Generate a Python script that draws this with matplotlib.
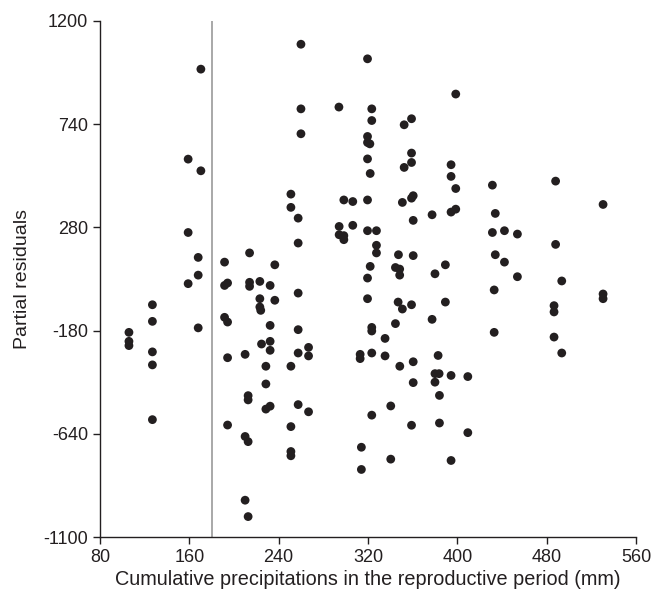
import matplotlib.pyplot as plt
import numpy as np

plt.rcParams['font.family'] = ['Liberation Sans', 'DejaVu Sans']
plt.rcParams['axes.unicode_minus'] = False

# cumulative precipitation (mm) and partial residuals
precip = [
    106, 106, 106, 127, 127, 127, 127, 127, 159, 159, 159, 168, 168, 168, 170.4, 170.4,
    260, 319.6, 260, 294, 323.4, 323.4, 260, 319.6, 319.6, 321.7, 319.6, 322, 352.4, 359,
    359, 359, 352.4, 251, 251, 257.5, 257.5, 298.4, 306.4, 319.6, 294.2, 294.2, 298.4,
    298.4, 306.4, 319.6, 327.6, 327.6, 327.6, 322, 319.6, 350.8, 359, 360.5, 360.5, 360.5,
    347.3, 344.6, 348.4, 348.4, 191.6, 214, 236.6, 191.6, 194.3, 214, 214, 223.2, 232.4,
    223.2, 223.2, 224, 236.6, 257.5, 191.6, 194.3, 232.4, 257.5, 224.7, 232.4, 232.4,
    194.3, 210, 228.6, 251, 257.5, 266.8, 266.8, 228.6, 212.7, 212.7, 228.6, 232.4, 257.5,
    266.8, 194.3, 251, 210, 212.7, 251, 251, 210, 212.7,
    319.6, 323.4, 323.4, 313, 313, 323.4, 335.3, 335.3, 344.6, 347, 350.8, 359, 348.5,
    360.5, 360.5, 340.4, 323.4, 359, 314.1, 314.1, 340.4,
    398.6, 394.4, 394.4, 398.6, 394.4, 398.6, 377.4, 431.4, 434, 431.4, 442.2, 453.8, 434,
    442.2, 453.8, 433, 488, 488, 493.5, 530.5, 530.5, 530.5, 389.3, 380,
    486.6, 486.6, 486.6, 493.5, 433, 389.3, 377.4, 382.8, 380, 383.7, 380, 394.4, 409.4,
    384, 384, 409.4, 394.4,
]
residuals = [
    -188, -228, -247, -65, -139, -275, -333, -577, 584, 257, 29, 146, 67, -168, 985, 532,
    1096, 1031, 808, 816, 808, 756, 697, 685, 658, 652, 585, 520, 737, 764,
    611, 569, 547, 428, 369, 321, 210, 402, 395, 402, 284, 247, 243,
    225, 289, 265, 265, 200, 166, 106, 54, 391, 410, 421, 311, 154,
    158, 101, 94, 67, 125, 166, 113, 21, 32, 35, 17, 39, 21,
    -38, -75, -90, -45, -13, -121, -142, -157, -176, -240, -228, -268,
    -301, -286, -339, -339, -280, -255, -293, -418, -470, -489, -530, -517, -510,
    -542, -601, -608, -652, -675, -719, -738, -936, -1009,
    -38, -166, -182, -286, -305, -280, -215, -293, -149, -53, -84, -65, -339,
    -319, -412, -516, -557, -602, -700, -799, -753,
    874, 559, 507, 453, 348, 361, 336, 468, 342, 257, 265, 250, 158,
    125, 60, 1, 486, 204, 41, 382, -17, -38, 113, 73,
    -69, -97, -209, -280, -188, -53, -130, -291, -372, -372, -410, -380, -385,
    -469, -592, -635, -759,
]

xticks = [80, 160, 240, 320, 400, 480, 560]
yticks = [-1100, -640, -180, 280, 740, 1200]
threshold = 180

fig = plt.figure(figsize=(6.53, 5.97), dpi=100)
ax = fig.add_axes([0.153, 0.1005, 0.821, 0.8645])

ax.axvline(threshold, color='#9a9a9a', linewidth=1.2, zorder=1)
ax.scatter(precip, residuals, s=40, color='#231f20', edgecolors='none', zorder=3)

ax.set_xlim(80, 560)
ax.set_ylim(-1100, 1200)
ax.set_xticks(xticks)
ax.set_yticks(yticks)
ax.spines['top'].set_visible(False)
ax.spines['right'].set_visible(False)
for s in ['left', 'bottom']:
    ax.spines[s].set_linewidth(1.0)
    ax.spines[s].set_color('#231f20')
ax.tick_params(direction='out', length=5, width=1.0, labelsize=13, colors='#231f20')

ax.set_xlabel('Cumulative precipitations in the reproductive period (mm)', fontsize=14.3,
              color='#231f20', labelpad=3)
ax.set_ylabel('Partial residuals', fontsize=14, color='#231f20', labelpad=9)

fig.savefig('out.png', dpi=100)
